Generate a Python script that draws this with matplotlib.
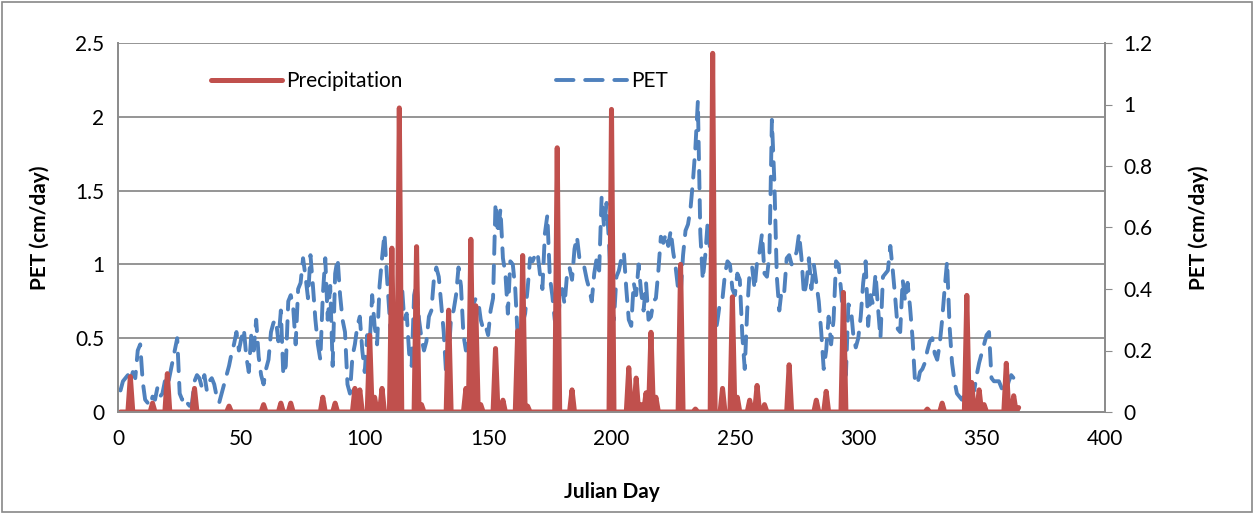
import matplotlib.pyplot as plt
import numpy as np
from matplotlib.patches import Rectangle

# Données
# PET journalière (axe de droite), jours 1 à 365
pet = [
    0.07, 0.10, 0.11, 0.12, 0.10, 0.13, 0.11, 0.20, 0.22, 0.10,
    0.04, 0.03, 0.02, 0.05, 0.04, 0.08, 0.05, 0.06, 0.10, 0.08,
    0.12, 0.16, 0.20, 0.24, 0.06, 0.04, 0.05, 0.03, 0.02, 0.03,
    0.10, 0.12, 0.11, 0.08, 0.12, 0.07, 0.10, 0.11, 0.09, 0.05,
    0.03, 0.06, 0.09, 0.12, 0.15, 0.19, 0.22, 0.26, 0.20, 0.24,
    0.27, 0.18, 0.13, 0.25, 0.20, 0.30, 0.18, 0.12, 0.09, 0.14,
    0.17, 0.26, 0.29, 0.30, 0.23, 0.33, 0.12, 0.15, 0.36, 0.38,
    0.34, 0.22, 0.40, 0.42, 0.50, 0.44, 0.37, 0.51, 0.41, 0.30,
    0.22, 0.17, 0.38, 0.50, 0.30, 0.41, 0.15, 0.45, 0.50, 0.38,
    0.30, 0.26, 0.09, 0.06, 0.18, 0.22, 0.28, 0.31, 0.20, 0.13,
    0.25, 0.22, 0.38, 0.28, 0.22, 0.41, 0.50, 0.58, 0.44, 0.32,
    0.16, 0.13, 0.25, 0.40, 0.42, 0.30, 0.32, 0.19, 0.15, 0.38,
    0.42, 0.30, 0.24, 0.20, 0.23, 0.31, 0.33, 0.43, 0.47, 0.44,
    0.35, 0.26, 0.12, 0.18, 0.31, 0.33, 0.38, 0.47, 0.41, 0.25,
    0.20, 0.25, 0.23, 0.35, 0.37, 0.36, 0.30, 0.27, 0.28, 0.25,
    0.33, 0.37, 0.68, 0.58, 0.66, 0.50, 0.45, 0.32, 0.49, 0.48,
    0.40, 0.24, 0.20, 0.29, 0.32, 0.40, 0.50, 0.49, 0.51, 0.52,
    0.45, 0.40, 0.58, 0.64, 0.44, 0.38, 0.30, 0.26, 0.36, 0.40,
    0.35, 0.45, 0.47, 0.43, 0.53, 0.57, 0.50, 0.49, 0.47, 0.43,
    0.40, 0.36, 0.45, 0.50, 0.46, 0.70, 0.60, 0.68, 0.55, 0.35,
    0.30, 0.44, 0.46, 0.50, 0.52, 0.40, 0.30, 0.28, 0.42, 0.38,
    0.48, 0.39, 0.33, 0.42, 0.30, 0.31, 0.36, 0.37, 0.46, 0.57,
    0.55, 0.58, 0.54, 0.59, 0.52, 0.47, 0.40, 0.38, 0.51, 0.59,
    0.61, 0.66, 0.75, 0.86, 1.01, 0.58, 0.43, 0.51, 0.62, 0.52,
    0.44, 0.25, 0.30, 0.36, 0.37, 0.45, 0.49, 0.48, 0.40, 0.38,
    0.45, 0.43, 0.25, 0.14, 0.33, 0.46, 0.47, 0.40, 0.49, 0.52,
    0.58, 0.45, 0.44, 0.51, 0.95, 0.75, 0.44, 0.33, 0.40, 0.39,
    0.50, 0.51, 0.48, 0.50, 0.52, 0.58, 0.50, 0.38, 0.42, 0.50,
    0.40, 0.48, 0.42, 0.36, 0.26, 0.14, 0.20, 0.31, 0.22, 0.30,
    0.49, 0.48, 0.40, 0.30, 0.12, 0.35, 0.34, 0.25, 0.21, 0.24,
    0.31, 0.42, 0.49, 0.28, 0.38, 0.35, 0.45, 0.34, 0.24, 0.44,
    0.45, 0.46, 0.54, 0.46, 0.37, 0.27, 0.26, 0.43, 0.36, 0.42,
    0.34, 0.24, 0.10, 0.09, 0.13, 0.14, 0.16, 0.20, 0.23, 0.24,
    0.19, 0.17, 0.22, 0.30, 0.40, 0.49, 0.28, 0.16, 0.10, 0.06,
    0.05, 0.04, 0.06, 0.07, 0.06, 0.08, 0.07, 0.12, 0.16, 0.19,
    0.22, 0.25, 0.26, 0.11, 0.10, 0.10, 0.10, 0.08, 0.06, 0.07,
    0.10, 0.12, 0.11, 0.10, 0.10,
]

# Précipitations : jours de pluie et hauteurs (axe de gauche), 0 ailleurs
rain_days = [5, 14, 20, 31, 45, 59, 66, 70, 83, 88, 96, 98, 102, 104, 107,
             111, 114, 121, 123, 134, 141, 143, 145, 147, 153, 156, 162, 164,
             166, 178, 184, 200, 207, 210, 212, 214, 216, 218, 228, 234, 241,
             245, 249, 251, 256, 259, 262, 272, 283, 287, 294, 328, 334, 344,
             346, 349, 351, 360, 363, 365]
rain_vals = [0.24, 0.06, 0.26, 0.16, 0.04, 0.05, 0.06, 0.06, 0.10, 0.06, 0.16,
             0.15, 0.52, 0.10, 0.16, 1.11, 2.06, 1.12, 0.05, 0.69, 0.16, 1.17,
             0.72, 0.05, 0.43, 0.08, 0.55, 1.06, 0.04, 1.79, 0.15, 2.05, 0.30,
             0.23, 0.05, 0.13, 0.54, 0.10, 1.00, 0.02, 2.43, 0.16, 0.78, 0.10,
             0.08, 0.18, 0.05, 0.32, 0.08, 0.14, 0.81, 0.02, 0.06, 0.79, 0.20,
             0.15, 0.05, 0.33, 0.11, 0.03]

days = np.arange(1, len(pet) + 1)
precip = np.zeros(len(days))
precip[np.array(rain_days) - 1] = rain_vals

red = '#C0504D'
blue = '#4F81BD'
grid_col = '#8C8C8C'

plt.rcParams['font.family'] = ['Lato', 'DejaVu Sans']

fig = plt.figure(figsize=(12.54, 5.14), dpi=100)
ax = fig.add_axes([118 / 1254, 1 - 412 / 514, (1105 - 118) / 1254, (412 - 43) / 514])
ax2 = ax.twinx()

# PET en pointillés (axe droit)
l2, = ax2.plot(days, pet, color=blue, lw=2.8, dashes=(4.5, 3.0),
               dash_capstyle='round', label='PET')
# Précipitations par-dessus
l1, = ax.plot(days, precip, color=red, lw=3.6, solid_joinstyle='round',
              solid_capstyle='round', label='Precipitation')
ax.set_zorder(ax2.get_zorder() + 1)
ax.patch.set_visible(False)

ax.set_xlim(0, 400)
ax.set_ylim(0, 2.5)
ax2.set_ylim(0, 1.2)
ax.set_xticks(np.arange(0, 401, 50))
ax.set_yticks(np.arange(0, 2.51, 0.5))
ax.set_yticklabels(['0', '0.5', '1', '1.5', '2', '2.5'])
ax2.set_yticks(np.arange(0, 1.21, 0.2))
ax2.set_yticklabels(['0', '0.2', '0.4', '0.6', '0.8', '1', '1.2'])

# Grille horizontale
for v in np.arange(0.5, 2.51, 0.5):
    ax2.axhline(v * 1.2 / 2.5, color=grid_col, lw=1.3, zorder=0)

for a in (ax, ax2):
    for s in a.spines.values():
        s.set_color(grid_col)
        s.set_linewidth(1.3)
    a.spines['top'].set_visible(False)
    a.tick_params(labelsize=15, color=grid_col, length=5)
ax.tick_params(axis='x', pad=12, length=0)
ax.tick_params(axis='y', pad=10, length=0)
ax2.tick_params(axis='y', pad=8)

ax.set_xlabel('Julian Day', fontsize=15, fontweight='bold', labelpad=24)
ax.set_ylabel('PET (cm/day)', fontsize=15, fontweight='bold', labelpad=18)
ax2.set_ylabel('PET (cm/day)', fontsize=15, fontweight='bold', labelpad=26)

ax.legend([l1, l2], ['Precipitation', 'PET'], ncol=2, frameon=False,
          loc='upper left', bbox_to_anchor=(0.075, 0.975), fontsize=15,
          handlelength=3.4, columnspacing=7.4, handletextpad=0.2)

# Cadre du graphique
fig.patches.append(Rectangle((2 / 1254, 2 / 514), 1 - 4 / 1254, 1 - 4 / 514,
                             transform=fig.transFigure, fill=False,
                             edgecolor='#888888', lw=1.2))

fig.savefig('out.png', dpi=100)
